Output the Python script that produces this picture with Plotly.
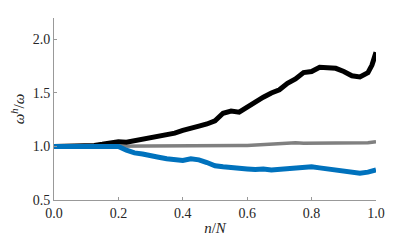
import plotly.graph_objects as go

x_vals = [0.000, 0.025, 0.050, 0.075, 0.100, 0.125, 0.150, 0.175, 0.200, 0.225,
          0.250, 0.275, 0.300, 0.325, 0.350, 0.375, 0.400, 0.425, 0.450, 0.475,
          0.500, 0.525, 0.550, 0.575, 0.600, 0.625, 0.650, 0.675, 0.700, 0.725,
          0.750, 0.775, 0.800, 0.825, 0.850, 0.875, 0.900, 0.925, 0.950, 0.975,
          0.9875, 1.000]

black_vals = [1.00, 1.00, 1.00, 1.00, 1.005, 1.01, 1.02, 1.03, 1.045, 1.04,
              1.055, 1.06, 1.075, 1.09, 1.11, 1.125, 1.15, 1.165, 1.19, 1.21,
              1.24, 1.31, 1.33, 1.32, 1.37, 1.41, 1.46, 1.50, 1.53, 1.59,
              1.63, 1.69, 1.70, 1.74, 1.73, 1.73, 1.70, 1.66, 1.65, 1.69,
              1.76, 1.88]

gray_vals = [1.00, 1.00, 1.00, 1.00, 1.00, 1.00, 1.00, 1.00, 1.00, 1.00,
             1.00, 1.00, 1.00, 1.00, 1.00, 1.00, 1.00, 1.00, 1.00, 1.00,
             1.00, 1.003, 1.005, 1.008, 1.01, 1.015, 1.02, 1.022, 1.025, 1.03,
             1.035, 1.03, 1.03, 1.032, 1.03, 1.028, 1.028, 1.03, 1.03, 1.035,
             1.04, 1.045]

blue_vals = [1.00, 1.00, 1.00, 1.00, 1.00, 1.00, 0.995, 0.99, 1.00, 0.965,
             0.94, 0.93, 0.91, 0.90, 0.885, 0.88, 0.87, 0.885, 0.875, 0.85,
             0.82, 0.81, 0.80, 0.795, 0.79, 0.785, 0.79, 0.78, 0.785, 0.79,
             0.795, 0.805, 0.81, 0.80, 0.79, 0.78, 0.77, 0.76, 0.75, 0.76,
             0.775, 0.78]

x_ticks = [0.0, 0.2, 0.4, 0.6, 0.8, 1.0]
y_ticks = [0.5, 1.0, 1.5, 2.0]

fig = go.Figure()
fig.add_trace(go.Scatter(x=x_vals, y=gray_vals, mode="lines",
                         line=dict(color="#808080", width=3.5), showlegend=False))
fig.add_trace(go.Scatter(x=x_vals, y=black_vals, mode="lines",
                         line=dict(color="#000000", width=5), showlegend=False))
fig.add_trace(go.Scatter(x=x_vals, y=blue_vals, mode="lines",
                         line=dict(color="#0072BD", width=5), showlegend=False))

font_family = "Liberation Serif"
fig.update_layout(
    width=407, height=235,
    margin=dict(l=46, r=39, t=10, b=39),
    paper_bgcolor="white", plot_bgcolor="white",
    font=dict(family=font_family, size=14, color="#262626"),
    xaxis=dict(range=[0, 1], tickvals=x_ticks, ticktext=[f"{v:.1f}" for v in x_ticks],
               showgrid=False, zeroline=False, showline=True, linecolor="#999999",
               linewidth=1, ticks="inside", ticklen=3, tickcolor="#999999",
               tickfont=dict(family=font_family, size=14),
               title=dict(text="<i>n</i>/<i>N</i>", standoff=2,
                          font=dict(family=font_family, size=15))),
    yaxis=dict(range=[0.5, 2.2], tickvals=y_ticks, ticktext=[f"{v:.1f}" for v in y_ticks],
               showgrid=False, zeroline=False, showline=True, linecolor="#999999",
               linewidth=1, ticks="inside", ticklen=3, tickcolor="#999999",
               tickfont=dict(family=font_family, size=14),
               title=dict(text="<i>ω<sup>h</sup></i>/<i>ω</i>", standoff=4,
                          font=dict(family=font_family, size=15))),
)

fig.write_html("out.html")
